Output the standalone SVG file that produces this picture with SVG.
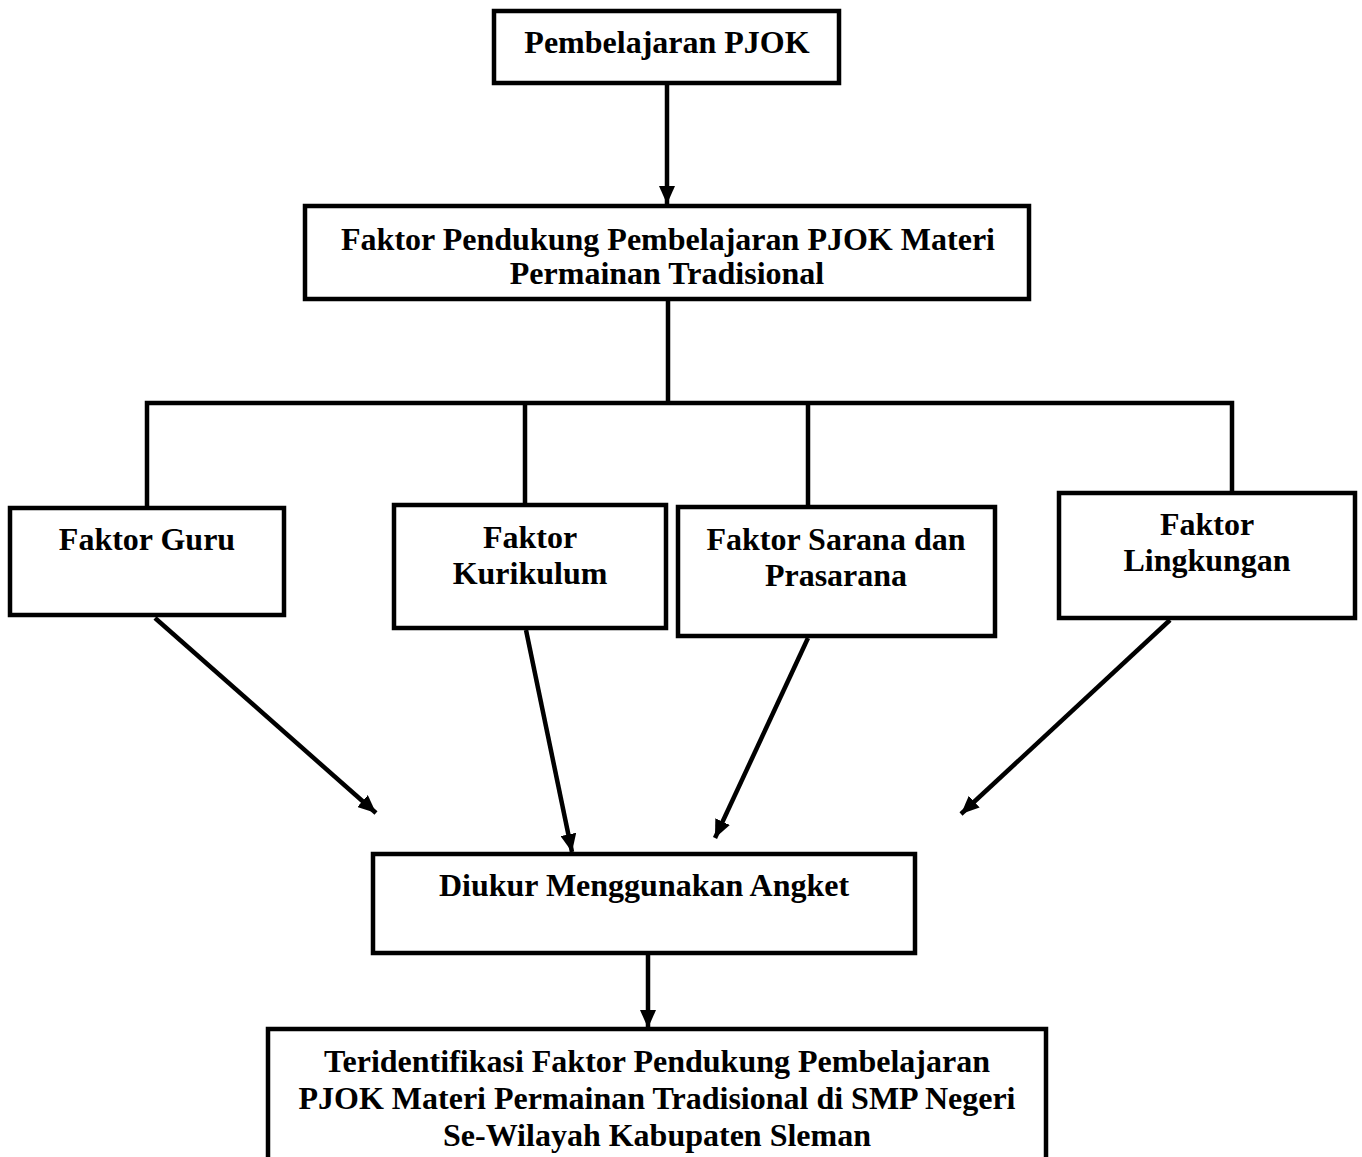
<svg xmlns="http://www.w3.org/2000/svg" width="1362" height="1157" viewBox="0 0 1362 1157">
<style>
rect.box{fill:#fff;stroke:#000;stroke-width:4.5}
text{font-family:"Liberation Serif","Times New Roman",serif;font-weight:bold;font-size:32px;fill:#000;text-anchor:middle}
.c line,.c path{stroke:#000;stroke-width:4.5;fill:none}
</style>
<defs>
<marker id="ah" markerUnits="userSpaceOnUse" markerWidth="20" markerHeight="16" refX="18" refY="8" orient="auto">
<path d="M0,0 L18,8 L0,16 z" fill="#000"/>
</marker>
</defs>
<rect width="1362" height="1157" fill="#fff"/>
<g class="c" id="connectors">
<line x1="667" y1="83" x2="667" y2="204" marker-end="url(#ah)"/>
<path d="M668,300 V403 M147,507 V403 H1232 V492 M525,403 V505 M808,403 V507"/>
<line x1="155" y1="618" x2="376" y2="813" marker-end="url(#ah)"/>
<line x1="526" y1="630" x2="572" y2="852" marker-end="url(#ah)"/>
<line x1="808" y1="638" x2="715" y2="838" marker-end="url(#ah)"/>
<line x1="1170" y1="620" x2="961" y2="814" marker-end="url(#ah)"/>
<line x1="648" y1="953" x2="648" y2="1028" marker-end="url(#ah)"/>
</g>
<g id="n1"><rect class="box" x="494" y="11" width="345" height="72"/><text x="667" y="53">Pembelajaran PJOK</text></g>
<g id="n2"><rect class="box" x="305" y="206" width="724" height="93"/><text x="668" y="250" textLength="654" lengthAdjust="spacingAndGlyphs">Faktor Pendukung Pembelajaran PJOK Materi</text><text x="667" y="284">Permainan Tradisional</text></g>
<g id="n3"><rect class="box" x="10" y="508" width="274" height="107"/><text x="147" y="550">Faktor Guru</text></g>
<g id="n4"><rect class="box" x="394" y="505" width="272" height="123"/><text x="530" y="548">Faktor</text><text x="530" y="584">Kurikulum</text></g>
<g id="n5"><rect class="box" x="678" y="507" width="317" height="129"/><text x="836" y="550">Faktor Sarana dan</text><text x="836" y="586">Prasarana</text></g>
<g id="n6"><rect class="box" x="1059" y="493" width="296" height="125"/><text x="1207" y="535">Faktor</text><text x="1207" y="571">Lingkungan</text></g>
<g id="n7"><rect class="box" x="373" y="854" width="542" height="99"/><text x="644" y="896">Diukur Menggunakan Angket</text></g>
<g id="n8"><rect class="box" x="268" y="1029" width="778" height="140"/><text x="657" y="1072">Teridentifikasi Faktor Pendukung Pembelajaran</text><text x="657" y="1109">PJOK Materi Permainan Tradisional di SMP Negeri</text><text x="657" y="1146">Se-Wilayah Kabupaten Sleman</text></g>
</svg>
